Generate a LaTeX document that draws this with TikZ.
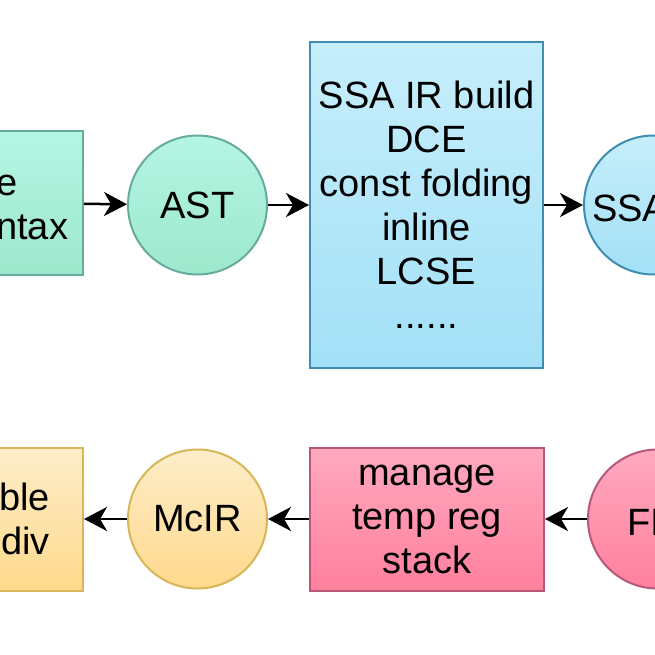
\documentclass[tikz,border=0pt]{standalone}
\usepackage{fontspec}
\setmainfont{Liberation Sans}
\usetikzlibrary{positioning,arrows.meta}

\definecolor{mintTop}{HTML}{B5F5E3}
\definecolor{mintBot}{HTML}{9DE8CD}
\definecolor{mintLine}{HTML}{67AB9F}
\definecolor{skyTop}{HTML}{C6EEFB}
\definecolor{skyBot}{HTML}{A3E0F7}
\definecolor{skyLine}{HTML}{3D8EB0}
\definecolor{sandTop}{HTML}{FDEDC9}
\definecolor{sandBot}{HTML}{FFD98C}
\definecolor{sandLine}{HTML}{D6B656}
\definecolor{roseTop}{HTML}{FFA9BF}
\definecolor{roseBot}{HTML}{FF809D}
\definecolor{roseLine}{HTML}{B5587A}

\tikzset{
  pass/.style={draw, line width=2pt, align=center, inner sep=0pt},
  ir/.style={circle, draw, line width=2pt, inner sep=0pt, minimum size=139pt},
  mint/.style={draw=mintLine, top color=mintTop, bottom color=mintBot},
  sky/.style={draw=skyLine, top color=skyTop, bottom color=skyBot},
  sand/.style={draw=sandLine, top color=sandTop, bottom color=sandBot},
  rose/.style={draw=roseLine, top color=roseTop, bottom color=roseBot},
  flow/.style={line width=2.5pt, -{Stealth[length=23pt,width=24pt,inset=7pt]}},
  cut/.style={inner sep=0pt, align=left}
}

\begin{document}
\begin{tikzpicture}[x=1pt, y=-1pt, node distance=42pt, font=\fontsize{38}{44}\selectfont]
    \useasboundingbox (0,0) rectangle (655,655);
    \clip (0,0) rectangle (655,655);

    \node[pass, mint, minimum width=160pt, minimum height=143pt, anchor=east] (src) at (84,203) {};
    \node[ir, mint, right=43pt of src, yshift=-2pt] (ast) {AST};
    \node[pass, sky, minimum width=233pt, minimum height=325pt, right=41pt of ast] (opt)
        {SSA IR build\\DCE\\const folding\\inline\\LCSE\\......};
    \node[ir, sky, right=39pt of opt] (ssa) {};

    \node[pass, rose, minimum width=234pt, minimum height=143pt] (reg) at (427,519)
        {manage\\temp reg\\stack};
    \node[ir, rose, right=42pt of reg] (fir) {};
    \node[ir, sand, left=41pt of reg] (mcir) {McIR};
    \node[pass, sand, minimum width=160pt, minimum height=143pt, left=43pt of mcir] (asm) {};

    \node[cut, anchor=west] (srctxt) at (-4,207) {e\\ntax};
    \node[cut, anchor=base west] (ssatxt) at (592,221) {SSA};
    \node[cut, anchor=base west] (firtxt) at (627,535) {FI};
    \node[inner sep=0pt, align=right, anchor=east] (asmtxt) at (50,519) {ble\\div};

    \draw[flow] (src) -- (ast);
    \draw[flow] (ast) -- (opt);
    \draw[flow] (opt) -- (ssa);
    \draw[flow] (fir) -- (reg);
    \draw[flow] (reg) -- (mcir);
    \draw[flow] (mcir) -- (asm);
\end{tikzpicture}
\end{document}
